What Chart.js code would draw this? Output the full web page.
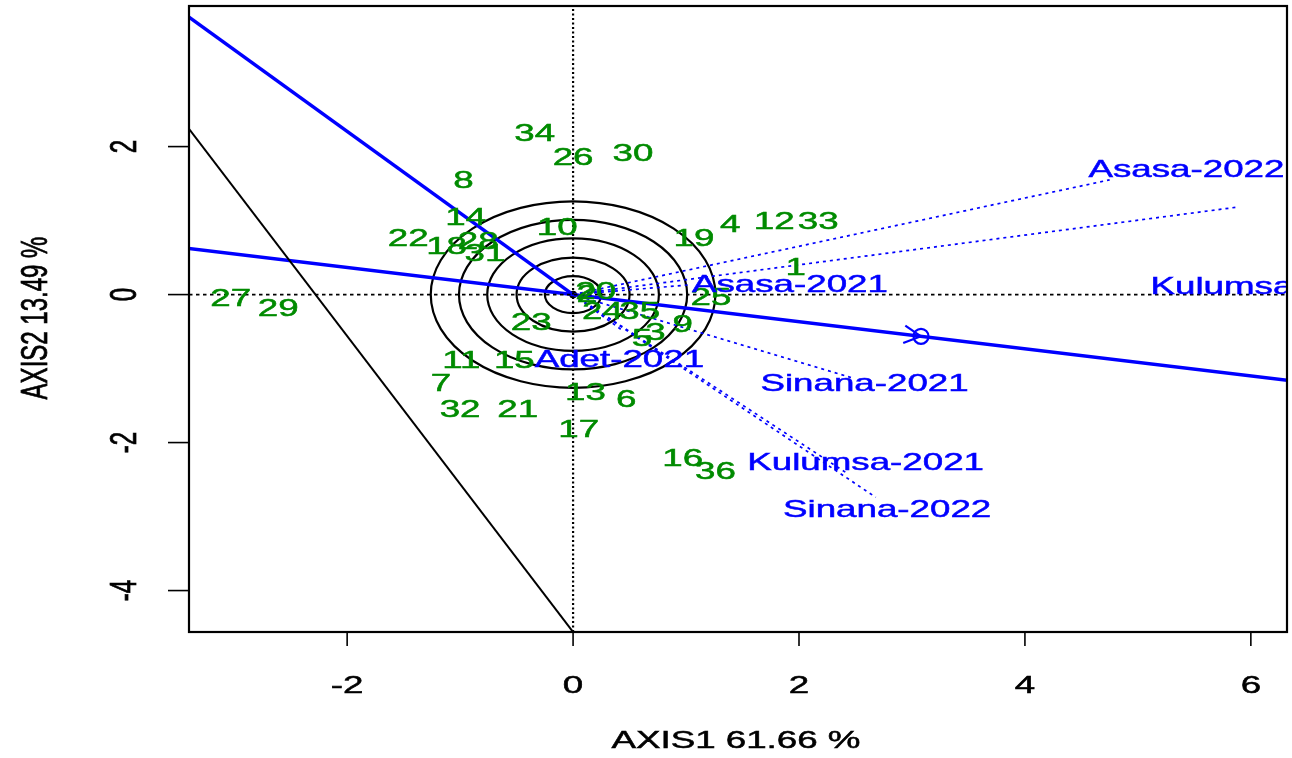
<!DOCTYPE html>
<html>
<head>
<meta charset="utf-8">
<script src="https://cdn.jsdelivr.net/npm/chart.js@4.4.1/dist/chart.umd.min.js"></script>
<style>
  html, body { margin: 0; padding: 0; background: #fff; }
  canvas { display: block; }
</style>
</head>
<body>
<canvas id="biplot" width="1292" height="758"></canvas>
<script>
// Axis ranges and ticks
const X_MIN = -3.40, X_MAX = 6.32;
const Y_MIN = -4.56, Y_MAX = 3.90;
const xTicks = [-2, 0, 2, 4, 6];
const yTicks = [-4, -2, 0, 2];
const xTitle = 'AXIS1 61.66 %';
const yTitle = 'AXIS2 13.49 %';

// Genotype labels (positions)
const genoNames = ['1','2','3','4','5','6','7','8','9','10','11','12','13','14','15','16','17','18',
                   '19','20','21','22','23','24','25','26','27','28','29','30','31','32','33','34','35','36'];
const genoX = [1.97, 0.12, 0.73, 1.39, 0.61, 0.47, -1.17, -0.97, 0.97, -0.14, -0.99, 1.78, 0.11, -0.95, -0.52, 0.97, 0.05, -1.12,
               1.07, 0.20, -0.49, -1.46, -0.37, 0.26, 1.22, 0.00, -3.03, -0.84, -2.61, 0.53, -0.78, -1.00, 2.17, -0.34, 0.59, 1.26];
const genoY = [0.36, -0.01, -0.53, 0.94, -0.60, -1.43, -1.21, 1.53, -0.41, 0.90, -0.90, 0.98, -1.34, 1.03, -0.90, -2.23, -1.84, 0.64,
               0.74, 0.03, -1.56, 0.74, -0.39, -0.24, -0.05, 1.84, -0.07, 0.70, -0.20, 1.90, 0.55, -1.56, 0.98, 2.17, -0.24, -2.40];

// Environment vectors (end points) and label positions
const envNames = ['Asasa-2022', 'Kulumsa-2022', 'Asasa-2021', 'Sinana-2021', 'Kulumsa-2021', 'Sinana-2022', 'Adet-2021'];
const envX = [4.75, 5.87, 1.02, 2.48, 2.41, 2.68, 0.45];
const envY = [1.55, 1.18, 0.13, -1.13, -2.40, -2.74, -0.50];
const envLabelX = [5.43, 6.16, 1.92, 2.58, 2.59, 2.78, 0.41];
const envLabelY = [1.68, 0.10, 0.13, -1.22, -2.28, -2.91, -0.89];

// Average environment axis, its perpendicular and the black boundary line
const aeaX = [-4.0, 7.0];
const aeaY = [0.732, -1.281];
const ordX = [-4.0, 0.0];
const ordY = [4.41, 0.0];
const blackX = [-4.0, 0.5];
const blackY = [3.44, -5.56];
const markerX = [3.08];
const markerY = [-0.564];

// Concentric rings around the origin
const ringRadii = [0.25, 0.50, 0.76, 1.01, 1.26];

const GREEN = '#008B00';
const BLUE = '#0000FF';
const FONT = '24px "Liberation Sans", Arial, sans-serif';
const SX = 1.53; // horizontal stretch of the original device

const pts = (xs, ys) => xs.map((x, i) => ({ x: x, y: ys[i] }));

function stretchedText(ctx, text, x, y, rotate) {
    ctx.save();
    ctx.translate(x, y);
    ctx.scale(SX, 1);
    if (rotate) ctx.rotate(-Math.PI / 2);
    ctx.fillText(text, 0, 0);
    ctx.lineWidth = 0.5;
    ctx.strokeStyle = ctx.fillStyle;
    ctx.strokeText(text, 0, 0);
    ctx.restore();
}

const datasets = [];

// dotted zero axes
datasets.push({ data: [{ x: X_MIN, y: 0 }, { x: X_MAX, y: 0 }], borderColor: '#000', borderWidth: 1.6, borderDash: [3.5, 3.5], showLine: true, pointRadius: 0 });
datasets.push({ data: [{ x: 0, y: Y_MIN }, { x: 0, y: Y_MAX }], borderColor: '#000', borderWidth: 2.2, borderDash: [2, 2.5], showLine: true, pointRadius: 0 });

// environment vectors
envNames.forEach((name, i) => {
    datasets.push({ data: [{ x: 0, y: 0 }, { x: envX[i], y: envY[i] }], borderColor: BLUE, borderWidth: 1.7, borderDash: [3, 4], showLine: true, pointRadius: 0 });
});

datasets.push({ data: pts(blackX, blackY), borderColor: '#000', borderWidth: 2, showLine: true, pointRadius: 0 });
datasets.push({ data: pts(ordX, ordY), borderColor: BLUE, borderWidth: 3.5, showLine: true, pointRadius: 0 });
datasets.push({ data: pts(aeaX, aeaY), borderColor: BLUE, borderWidth: 3.5, showLine: true, pointRadius: 0 });
datasets.push({ data: pts(markerX, markerY), borderColor: BLUE, backgroundColor: 'rgba(0,0,0,0)', borderWidth: 2.2, pointRadius: 7.5, showLine: false });
datasets.push({ data: [{ x: 0, y: 0 }], borderColor: '#000', backgroundColor: '#000', pointRadius: 3.5, showLine: false });

// label anchor datasets (drawn as text by the plugin)
const GENO_IDX = datasets.length;
datasets.push({ data: pts(genoX, genoY), pointRadius: 0, showLine: false });
const ENV_IDX = datasets.length;
datasets.push({ data: pts(envLabelX, envLabelY), pointRadius: 0, showLine: false });

const biplotPlugin = {
    id: 'biplot',
    beforeDatasetsDraw(chart) {
        const { ctx, chartArea, scales } = chart;
        const x = scales.x, y = scales.y;
        const cx = x.getPixelForValue(0), cy = y.getPixelForValue(0);
        ctx.save();
        ctx.beginPath();
        ctx.rect(chartArea.left, chartArea.top, chartArea.width, chartArea.height);
        ctx.clip();
        ctx.strokeStyle = '#000';
        ctx.lineWidth = 2.2;
        ringRadii.forEach(r => {
            const rx = x.getPixelForValue(r) - cx;
            const ry = cy - y.getPixelForValue(r);
            ctx.beginPath();
            ctx.ellipse(cx, cy, rx, ry, 0, 0, Math.PI * 2);
            ctx.stroke();
        });
        ctx.restore();
    },
    afterDatasetsDraw(chart) {
        const { ctx, chartArea, scales } = chart;
        const x = scales.x, y = scales.y;

        // arrow head on the average environment axis
        const mx = x.getPixelForValue(markerX[0]), my = y.getPixelForValue(markerY[0]);
        const ang = Math.atan2(y.getPixelForValue(aeaY[1]) - y.getPixelForValue(aeaY[0]),
                               x.getPixelForValue(aeaX[1]) - x.getPixelForValue(aeaX[0]));
        ctx.save();
        ctx.strokeStyle = BLUE;
        ctx.lineWidth = 2.2;
        [-0.48, 0.48].forEach(d => {
            ctx.beginPath();
            ctx.moveTo(mx, my);
            ctx.lineTo(mx - 19 * Math.cos(ang + d), my - 19 * Math.sin(ang + d));
            ctx.stroke();
        });
        ctx.restore();

        ctx.save();
        ctx.font = FONT;
        ctx.textAlign = 'center';
        ctx.textBaseline = 'middle';

        // genotype labels
        ctx.fillStyle = GREEN;
        chart.getDatasetMeta(GENO_IDX).data.forEach((p, i) => stretchedText(ctx, genoNames[i], p.x, p.y));

        // environment labels, clipped to the plot region
        ctx.save();
        ctx.beginPath();
        ctx.rect(chartArea.left, chartArea.top, chartArea.width, chartArea.height);
        ctx.clip();
        ctx.fillStyle = BLUE;
        chart.getDatasetMeta(ENV_IDX).data.forEach((p, i) => stretchedText(ctx, envNames[i], p.x, p.y));
        ctx.restore();

        // box, ticks, tick labels, titles
        ctx.strokeStyle = '#000';
        ctx.lineWidth = 2.2;
        ctx.strokeRect(chartArea.left, chartArea.top, chartArea.width, chartArea.height);
        ctx.lineWidth = 1.6;
        ctx.fillStyle = '#000';
        xTicks.forEach(v => {
            const px = x.getPixelForValue(v);
            ctx.beginPath();
            ctx.moveTo(px, chartArea.bottom);
            ctx.lineTo(px, chartArea.bottom + 14);
            ctx.stroke();
            stretchedText(ctx, String(v), px, chartArea.bottom + 54);
        });
        yTicks.forEach(v => {
            const py = y.getPixelForValue(v);
            ctx.beginPath();
            ctx.moveTo(chartArea.left, py);
            ctx.lineTo(chartArea.left - 21, py);
            ctx.stroke();
            stretchedText(ctx, String(v), chartArea.left - 63, py, true);
        });
        stretchedText(ctx, xTitle, (x.getPixelForValue(X_MIN) + x.getPixelForValue(X_MAX)) / 2 - 2, chartArea.bottom + 109);
        stretchedText(ctx, yTitle, 37, (chartArea.top + chartArea.bottom) / 2 - 1, true);
        ctx.restore();
    }
};

new Chart(document.getElementById('biplot'), {
    type: 'scatter',
    data: { datasets: datasets },
    options: {
        responsive: false,
        animation: false,
        layout: { autoPadding: false, padding: { left: 189, right: 5, top: 6, bottom: 126 } },
        scales: {
            x: { type: 'linear', min: X_MIN, max: X_MAX, display: false },
            y: { type: 'linear', min: Y_MIN, max: Y_MAX, display: false }
        },
        plugins: { legend: { display: false }, tooltip: { enabled: false } }
    },
    plugins: [biplotPlugin]
});
</script>
</body>
</html>
